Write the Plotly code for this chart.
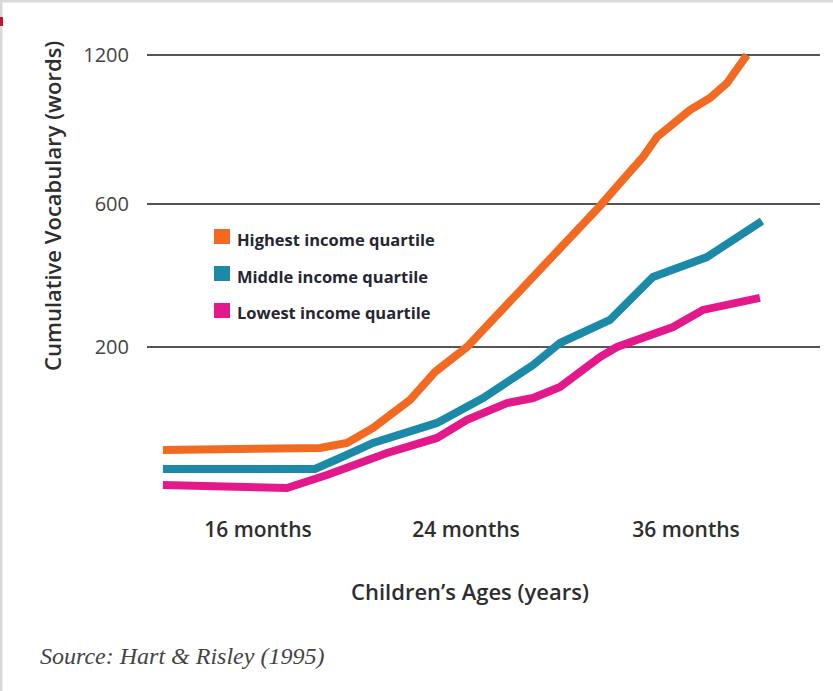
import plotly.graph_objects as go

# ---- data (axis units: x = age position, y = vocabulary position) ----
series_names = ["Highest income quartile", "Middle income quartile", "Lowest income quartile"]
series_colors = ["#f26a21", "#1a8aa8", "#e3198b"]

high_x = [0.507, 0.936, 1.281, 1.414, 1.542, 1.724, 1.847, 2.005, 2.133, 2.315, 2.488,
          2.660, 2.759, 2.872, 2.941, 2.990, 3.103, 3.202, 3.286, 3.384]
high_y = [-0.720, -0.713, -0.706, -0.671, -0.566, -0.371, -0.175, 0.000, 0.189, 0.469, 0.727,
          0.986, 1.147, 1.329, 1.469, 1.531, 1.657, 1.741, 1.846, 2.042]

mid_x = [0.507, 0.936, 1.256, 1.379, 1.542, 1.857, 2.084, 2.330, 2.463, 2.709, 2.921, 3.187, 3.458]
mid_y = [-0.853, -0.853, -0.853, -0.776, -0.671, -0.531, -0.357, -0.126, 0.028, 0.189, 0.490, 0.629, 0.881]

low_x = [0.507, 0.837, 1.118, 1.315, 1.611, 1.857, 2.005, 2.202, 2.330, 2.463, 2.660, 2.744,
         3.020, 3.167, 3.448]
low_y = [-0.965, -0.979, -0.986, -0.895, -0.741, -0.636, -0.510, -0.392, -0.357, -0.280, -0.070,
         0.000, 0.140, 0.259, 0.343]

x_tick_pos = [0.975, 2.0, 3.084]
x_tick_labels = ["16 months", "24 months", "36 months"]
y_tick_pos = [0.0, 1.0, 2.042]
y_tick_labels = ["200", "600", "1200"]

x_title = "Children\u2019s Ages (years)"
y_title = "Cumulative Vocabulary (words)"
source_text = "Source: Hart &amp; Risley (1995)"

# ---- layout geometry ----
W_FIG, H_FIG = 833, 691
L, R, T, B = 147, 820, 30, 515
PW, PH = R - L, B - T


def px2x(p):
    return (p - L) / PW


def px2y(p):
    return (B - p) / PH


FONT = "Open Sans"

fig = go.Figure()
for xs, ys, name, col in zip([high_x, mid_x, low_x], [high_y, mid_y, low_y], series_names, series_colors):
    fig.add_trace(go.Scatter(x=xs, y=ys, mode="lines", name=name,
                             line=dict(color=col, width=8), showlegend=False))

annotations = [
    dict(text=y_title, x=px2x(52), y=px2y(206), xref="paper", yref="paper", textangle=-90,
         showarrow=False, font=dict(family=FONT, size=22, color="#2e2e2e", weight=600),
         xanchor="center", yanchor="middle"),
    dict(text=x_title, x=px2x(470), y=px2y(591), xref="paper", yref="paper",
         showarrow=False, font=dict(family=FONT, size=22, color="#2e2e2e", weight=600),
         xanchor="center", yanchor="middle"),
    dict(text="<i>" + source_text + "</i>", x=px2x(38), y=px2y(656), xref="paper", yref="paper",
         showarrow=False, font=dict(family="Liberation Serif", size=24, color="#444"),
         xanchor="left", yanchor="middle"),
]

shapes = []
legend_y = [237, 274, 311]
for name, col, ly in zip(series_names, series_colors, legend_y):
    annotations.append(dict(text="<b>" + name + "</b>", x=px2x(235), y=px2y(ly + 2), xref="paper",
                            yref="paper", showarrow=False, xanchor="left", yanchor="middle",
                            font=dict(family=FONT, size=16.5, color="#262633")))
    shapes.append(dict(type="rect", xref="paper", yref="paper", x0=px2x(214), x1=px2x(230),
                       y0=px2y(ly - 8), y1=px2y(ly + 7), fillcolor=col, line=dict(width=0)))

# frame edges of the original picture
shapes += [
    dict(type="rect", xref="paper", yref="paper", x0=px2x(0), x1=px2x(W_FIG), y0=px2y(0), y1=px2y(2.5),
         fillcolor="#d9d9d9", line=dict(width=0), layer="above"),
    dict(type="rect", xref="paper", yref="paper", x0=px2x(0), x1=px2x(2.5), y0=px2y(0), y1=px2y(H_FIG),
         fillcolor="#d9d9d9", line=dict(width=0), layer="above"),
    dict(type="rect", xref="paper", yref="paper", x0=px2x(0), x1=px2x(3), y0=px2y(17), y1=px2y(26),
         fillcolor="#c8102e", line=dict(width=0), layer="above"),
]

fig.update_layout(
    width=W_FIG, height=H_FIG, autosize=False,
    margin=dict(l=L, r=W_FIG - R, t=T, b=H_FIG - B, pad=0),
    paper_bgcolor="white", plot_bgcolor="white",
    annotations=annotations, shapes=shapes,
    xaxis=dict(range=[1 + (L - 263) / 203, 1 + (R - 263) / 203],
               tickvals=x_tick_pos, ticktext=x_tick_labels, showgrid=False, zeroline=False,
               showline=False, ticks="",
               tickfont=dict(family=FONT, size=21, color="#2e2e2e", weight=600)),
    yaxis=dict(range=[(347 - B) / 143, (347 - T) / 143],
               tickvals=y_tick_pos, ticktext=y_tick_labels, showgrid=True, gridcolor="#555",
               gridwidth=2, zeroline=False, showline=False, ticks="outside", ticklen=13,
               tickcolor="rgba(0,0,0,0)", tickfont=dict(family=FONT, size=20, color="#444")),
)

fig.write_html("out.html")
